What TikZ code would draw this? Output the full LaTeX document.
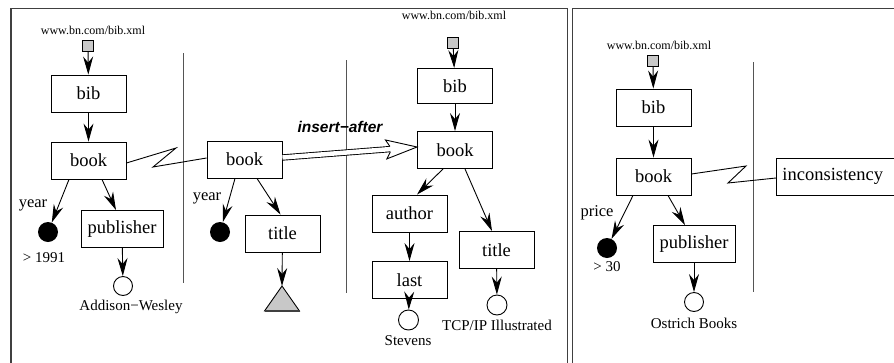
\documentclass[tikz,border=0pt]{standalone}
\usepackage{fontspec}
\setmainfont{Liberation Serif}
\newfontfamily\hvfont{Liberation Sans}
\usetikzlibrary{arrows.meta,calc}
\definecolor{srcgray}{HTML}{C8C8C8}
\definecolor{framegray}{HTML}{404040}
\definecolor{sepgray}{HTML}{555555}
\begin{document}
\begin{tikzpicture}[x=1pt,y=-1pt,
  box/.style={draw, line width=0.9pt, minimum width=75pt, minimum height=37pt, inner sep=0pt, font=\fontsize{18.5}{20}\selectfont},
  src/.style={draw, line width=0.8pt, fill=srcgray, minimum size=11pt, inner sep=0pt},
  val/.style={circle, draw, line width=0.9pt, fill=white, minimum size=19pt, inner sep=0pt},
  cond/.style={circle, fill=black, minimum size=20pt, inner sep=0pt},
  arr/.style={line width=0.9pt, -{Stealth[length=18pt, width=10pt, inset=6pt]}},
  url/.style={font=\fontsize{12}{14}\selectfont, inner sep=0pt},
  lab/.style={font=\fontsize{16.5}{18}\selectfont, inner sep=0pt},
  vlab/.style={font=\fontsize{15}{17}\selectfont, inner sep=0pt},
  sepline/.style={draw=sepgray, line width=1pt},
  framebox/.style={draw=framegray, line width=1.3pt},
  zig/.style={line width=0.9pt},
]
\useasboundingbox (0,0) rectangle (894,362);
\clip (0,0) rectangle (894,362);
\draw[framebox] (11,8.5) rectangle (567.5,380);
\draw[framebox] (572.5,8.5) rectangle (910,380);

% ---------- left panel ----------
\node[url] (u1) at (93,30) {www.bn.com/bib.xml};
\node[src] (s1) at (88,46) {};
\node[box] (bib1) at (88.5,93.5) {bib};
\node[box] (book1) at (88.5,160.5) {book};
\node[cond] (y1) at (48,232) {};
\node[lab] (ly1) at (33,205) {year};
\node[vlab] (v1) at (44,258) {> 1991};
\node[box, minimum width=82pt] (pub1) at (122,229) {publisher};
\node[val] (c1) at (123,286) {};
\node[vlab] (aw) at (131,307) {Addison−Wesley};
\draw[arr] (s1) -- (bib1);
\draw[arr] (bib1) -- (book1);
\draw[arr] ([xshift=-19.5pt]book1.south) -- (y1);
\draw[arr] ([xshift=13.5pt]book1.south) -- ([xshift=-6pt]pub1.north);
\draw[arr] (pub1) -- (c1);
\draw[sepline] (183,53) -- (183,283);

% ---------- middle panel ----------
\node[box] (book2) at (244.5,159.5) {book};
\node[cond] (y2) at (220,232) {};
\node[lab] (ly2) at (207,198) {year};
\node[box] (title2) at (282.5,233.5) {title};
\coordinate (tri) at (282,286);
\draw[line width=0.9pt, fill=srcgray] (tri) -- (299.5,311) -- (264.5,311) -- cycle;
\draw[line width=1.4pt, draw=framegray] (264.5,311) -- (299.5,311);
\draw[arr] ([xshift=-9.5pt]book2.south) -- (y2);
\draw[arr] ([xshift=12.5pt]book2.south) -- ([xshift=-2pt]title2.north);
\draw[arr] (title2) -- (tri);
\coordinate (z1a) at (176,148);
\coordinate (z1b) at (153,167);
\draw[zig] ([yshift=-2.5pt]book1.east) -- (z1a) -- (z1b) -- ([yshift=1.5pt]book2.west);
\draw[sepline] (346,60) -- (346,293);

\node[font={\hvfont\bfseries\itshape\fontsize{15.5}{17}\selectfont}, inner sep=0pt] (ins) at (340,127) {insert−after};

% ---------- right panel of left frame ----------
\node[url] (u3) at (454,15) {www.bn.com/bib.xml};
\node[src] (s3) at (453,42.5) {};
\node[box, minimum height=35pt] (bib3) at (455,86) {bib};
\node[box] (book3) at (455,150) {book};
\node[box] (auth) at (409.5,213.5) {author};
\node[box] (last) at (409.5,280) {last};
\node[box] (title3) at (496.5,250) {title};
\node[val, minimum size=20pt] (c3a) at (408.5,320) {};
\node[vlab] (stev) at (408,341) {Stevens};
\node[val, minimum size=20pt] (c3b) at (497,305) {};
\node[vlab] (tcp) at (497,325) {TCP/IP Illustrated};
\draw[arr] (s3) -- (bib3);
\draw[arr] (bib3) -- (book3);
\draw[arr] ([xshift=-12pt]book3.south) -- ([xshift=7.5pt]auth.north);
\draw[arr] ([xshift=10pt]book3.south) -- ([xshift=-4.5pt]title3.north);
\draw[arr] (auth) -- (last);
\draw[arr] (last) -- (c3a);
\draw[arr] (title3) -- (c3b);

% ---------- insert-after double arrow ----------
\coordinate (dA) at ([yshift=2pt]book2.east);
\coordinate (dB) at ([yshift=3pt]book3.west);
\draw[line width=0.9pt, double, double distance=4.5pt, shorten >=27pt] (dA) -- (dB);
\draw[line width=0.9pt, fill=white, line join=miter]
  ($(dB)!27pt!(dA)!2.7pt!-90:(dA)$) -- ($(dB)!31pt!(dA)!9.5pt!-90:(dA)$) -- (dB)
  -- ($(dB)!31pt!(dA)!9.5pt!90:(dA)$) -- ($(dB)!27pt!(dA)!2.7pt!90:(dA)$);

% ---------- right frame ----------
\node[url] (u4) at (659,45) {www.bn.com/bib.xml};
\node[src] (s4) at (653,60.5) {};
\node[box] (bib4) at (653.5,107.5) {bib};
\node[box] (book4) at (653.5,176.5) {book};
\node[cond] (p4) at (607,248) {};
\node[lab] (lp) at (597,213) {price};
\node[vlab] (v4) at (607,267) {> 30};
\node[box, minimum width=82pt] (pub4) at (694,244) {publisher};
\node[val] (c4) at (694,302) {};
\node[vlab] (ob) at (694,323) {Ostrich Books};
\draw[sepline] (753,62) -- (753,292);
\node[box, anchor=west, text width=120pt, inner xsep=6pt, align=left] (inc) at (776,176.5) {inconsistency};
\draw[arr] (s4) -- (bib4);
\draw[arr] (bib4) -- (book4);
\draw[arr] ([xshift=-20.5pt]book4.south) -- (p4);
\draw[arr] ([xshift=14.5pt]book4.south) -- ([xshift=-9pt]pub4.north);
\draw[arr] (pub4) -- (c4);
\coordinate (z4a) at (746,166);
\coordinate (z4b) at (728,183);
\draw[zig] ([yshift=2.5pt]book4.east) -- (z4a) -- (z4b) -- ([yshift=-1.5pt]inc.west);
\end{tikzpicture}
\end{document}
